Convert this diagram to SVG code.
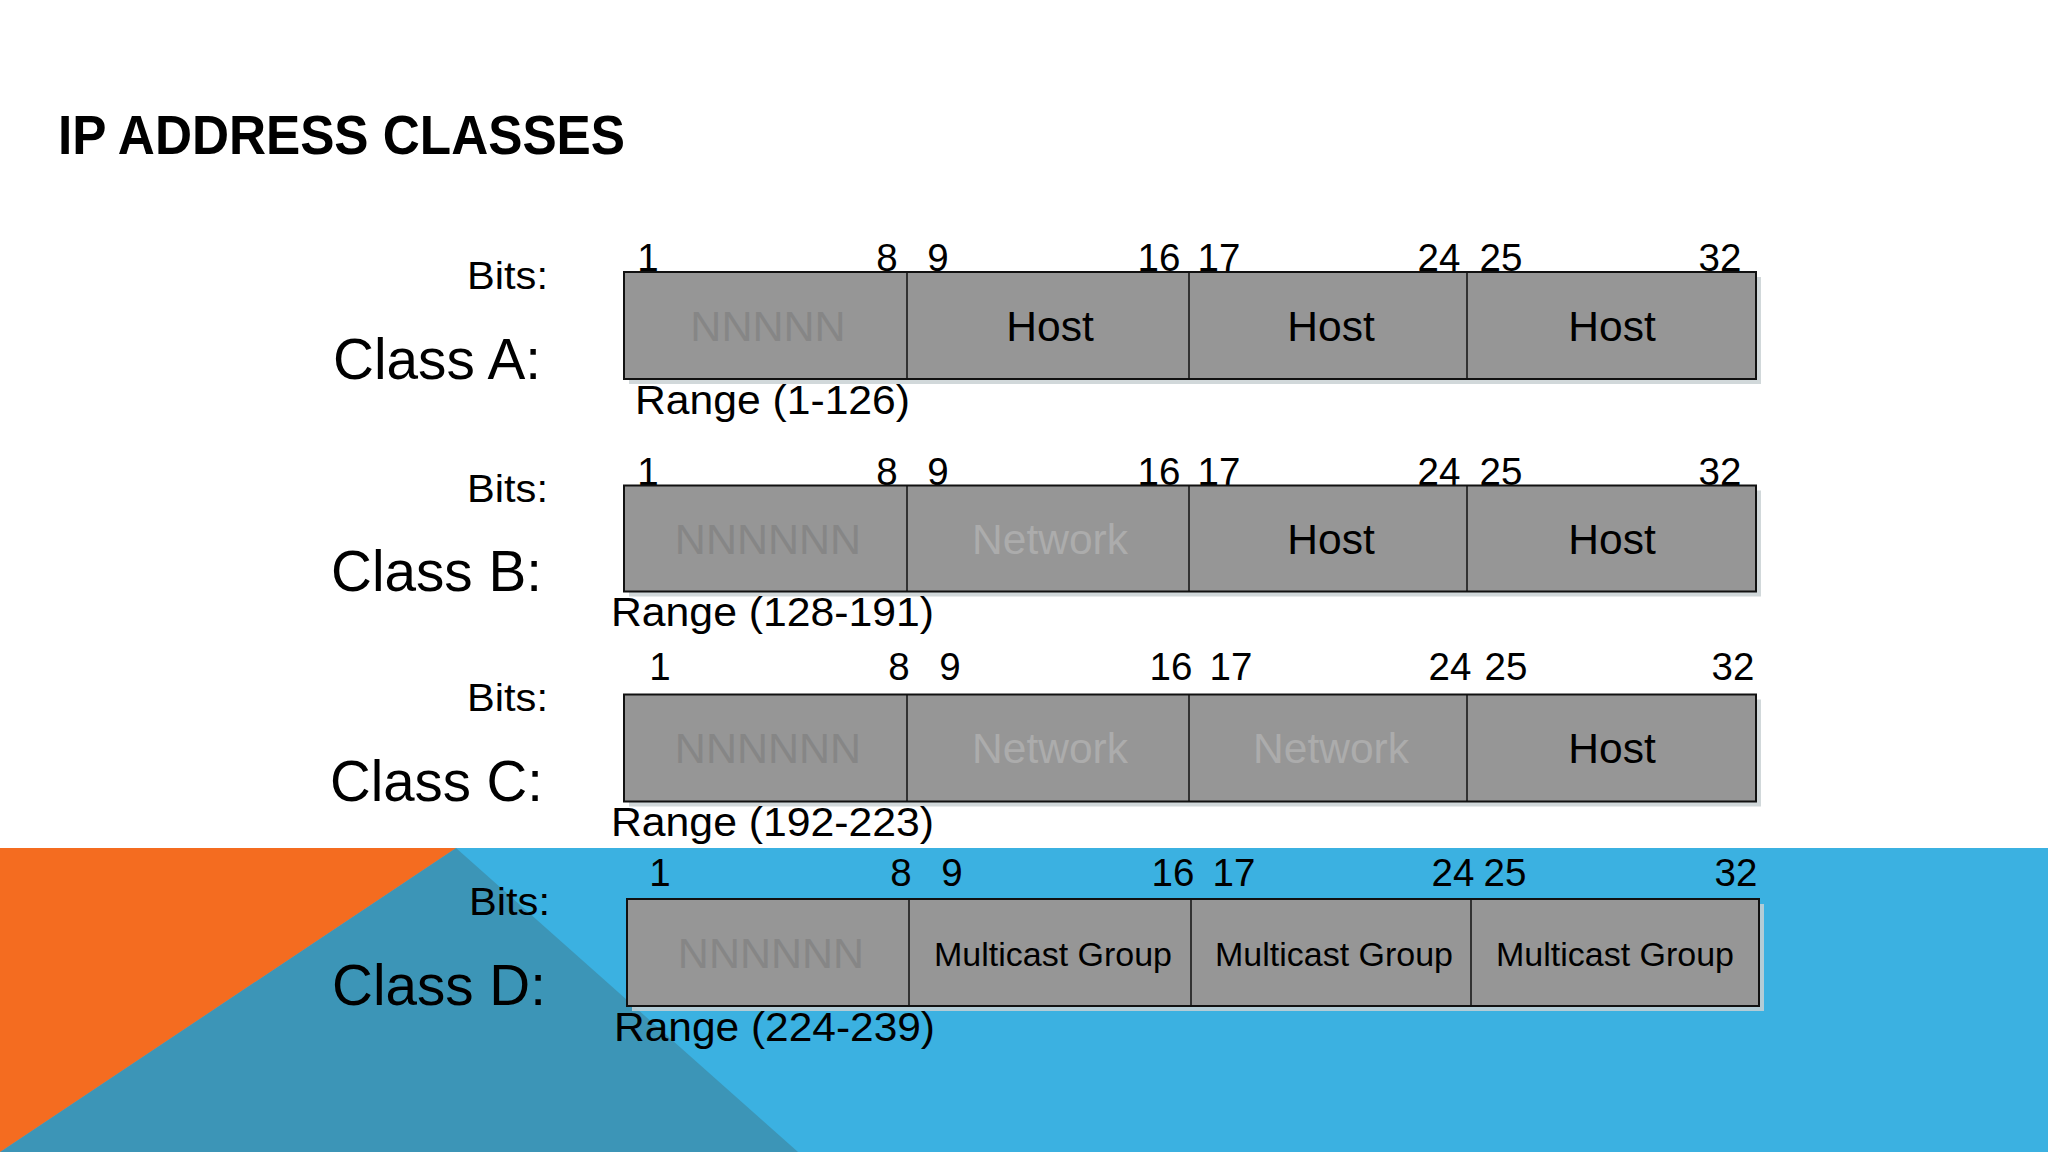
<svg xmlns="http://www.w3.org/2000/svg" width="2048" height="1152" viewBox="0 0 2048 1152">
<style>
text{font-family:"Liberation Sans",Arial,sans-serif;fill:#000}
.title{font-size:56px;font-weight:bold}
.bits{font-size:39px}
.cls{font-size:57px}
.num{font-size:38.5px;text-anchor:middle}
.rng{font-size:40px}
.cell{font-size:42.5px;text-anchor:middle}
.net{fill:#868686;font-size:43px}
.nw{fill:#acacac}
.mc{font-size:33.5px;text-anchor:middle}
.box{fill:#969696;stroke:#111;stroke-width:2}
.shadow{fill:#c9d1d3;opacity:0.85}
.div{stroke:#111;stroke-width:1.5}
</style>
<rect x="0" y="0" width="2048" height="1152" fill="#ffffff"/>
<g id="background">
<rect x="0" y="848" width="2048" height="304" fill="#3bb1e1"/>
<polygon points="456,848 798,1152 0,1152" fill="#3c95b7"/>
<polygon points="0,848 456,848 0,1152" fill="#f46c20"/>
</g>
<text class="title" x="58" y="154" textLength="567" lengthAdjust="spacingAndGlyphs">IP ADDRESS CLASSES</text>

<g id="classA">
<text class="bits" x="467" y="289" textLength="81" lengthAdjust="spacingAndGlyphs">Bits:</text>
<text class="cls" x="333" y="378.5" textLength="208" lengthAdjust="spacingAndGlyphs">Class A:</text>
<text class="num" y="271"><tspan x="648">1</tspan><tspan x="887">8</tspan><tspan x="938">9</tspan><tspan x="1159">16</tspan><tspan x="1219">17</tspan><tspan x="1439">24</tspan><tspan x="1501">25</tspan><tspan x="1720">32</tspan></text>
<rect class="shadow" x="629" y="277" width="1132" height="107"/>
<rect class="box" x="624" y="272" width="1132" height="107"/>
<line class="div" x1="907" y1="272" x2="907" y2="379"/>
<line class="div" x1="1189" y1="272" x2="1189" y2="379"/>
<line class="div" x1="1467" y1="272" x2="1467" y2="379"/>
<text class="cell net" x="768" y="341">NNNNN</text>
<text class="cell" x="1050" y="341">Host</text>
<text class="cell" x="1331" y="341">Host</text>
<text class="cell" x="1612" y="341">Host</text>
<text class="rng" x="635" y="413.5" textLength="275" lengthAdjust="spacingAndGlyphs">Range (1-126)</text>
</g>

<g id="classB">
<text class="bits" x="467" y="501.5" textLength="81" lengthAdjust="spacingAndGlyphs">Bits:</text>
<text class="cls" x="331" y="590.5" textLength="211" lengthAdjust="spacingAndGlyphs">Class B:</text>
<text class="num" y="484.5"><tspan x="648">1</tspan><tspan x="887">8</tspan><tspan x="938">9</tspan><tspan x="1159">16</tspan><tspan x="1219">17</tspan><tspan x="1439">24</tspan><tspan x="1501">25</tspan><tspan x="1720">32</tspan></text>
<rect class="shadow" x="629" y="490.5" width="1132" height="106"/>
<rect class="box" x="624" y="485.5" width="1132" height="106"/>
<line class="div" x1="907" y1="485.5" x2="907" y2="591.5"/>
<line class="div" x1="1189" y1="485.5" x2="1189" y2="591.5"/>
<line class="div" x1="1467" y1="485.5" x2="1467" y2="591.5"/>
<text class="cell net" x="768" y="554">NNNNNN</text>
<text class="cell nw" x="1050" y="554">Network</text>
<text class="cell" x="1331" y="554">Host</text>
<text class="cell" x="1612" y="554">Host</text>
<text class="rng" x="611" y="626" textLength="323" lengthAdjust="spacingAndGlyphs">Range (128-191)</text>
</g>

<g id="classC">
<text class="bits" x="467" y="711" textLength="81" lengthAdjust="spacingAndGlyphs">Bits:</text>
<text class="cls" x="330" y="800.5" textLength="213" lengthAdjust="spacingAndGlyphs">Class C:</text>
<text class="num" y="680"><tspan x="660">1</tspan><tspan x="899">8</tspan><tspan x="950">9</tspan><tspan x="1171">16</tspan><tspan x="1231">17</tspan><tspan x="1450">24</tspan><tspan x="1506">25</tspan><tspan x="1733">32</tspan></text>
<rect class="shadow" x="629" y="699.5" width="1132" height="107"/>
<rect class="box" x="624" y="694.5" width="1132" height="107"/>
<line class="div" x1="907" y1="694.5" x2="907" y2="801.5"/>
<line class="div" x1="1189" y1="694.5" x2="1189" y2="801.5"/>
<line class="div" x1="1467" y1="694.5" x2="1467" y2="801.5"/>
<text class="cell net" x="768" y="763">NNNNNN</text>
<text class="cell nw" x="1050" y="763">Network</text>
<text class="cell nw" x="1331" y="763">Network</text>
<text class="cell" x="1612" y="763">Host</text>
<text class="rng" x="611" y="836" textLength="323" lengthAdjust="spacingAndGlyphs">Range (192-223)</text>
</g>

<g id="classD">
<text class="bits" x="469" y="915" textLength="81" lengthAdjust="spacingAndGlyphs">Bits:</text>
<text class="cls" x="332" y="1005" textLength="214" lengthAdjust="spacingAndGlyphs">Class D:</text>
<text class="num" y="885.5"><tspan x="660">1</tspan><tspan x="901">8</tspan><tspan x="952">9</tspan><tspan x="1173">16</tspan><tspan x="1234">17</tspan><tspan x="1453">24</tspan><tspan x="1505">25</tspan><tspan x="1736">32</tspan></text>
<rect class="shadow" x="632" y="904" width="1132" height="107"/>
<rect class="box" x="627" y="899" width="1132" height="107"/>
<line class="div" x1="909" y1="899" x2="909" y2="1006"/>
<line class="div" x1="1191" y1="899" x2="1191" y2="1006"/>
<line class="div" x1="1471" y1="899" x2="1471" y2="1006"/>
<text class="cell net" x="771" y="968">NNNNNN</text>
<text class="mc" x="1053" y="966" textLength="238" lengthAdjust="spacingAndGlyphs">Multicast Group</text>
<text class="mc" x="1334" y="966" textLength="238" lengthAdjust="spacingAndGlyphs">Multicast Group</text>
<text class="mc" x="1615" y="966" textLength="238" lengthAdjust="spacingAndGlyphs">Multicast Group</text>
<text class="rng" x="614" y="1041" textLength="321" lengthAdjust="spacingAndGlyphs">Range (224-239)</text>
</g>

<g id="connectors"></g>
</svg>
